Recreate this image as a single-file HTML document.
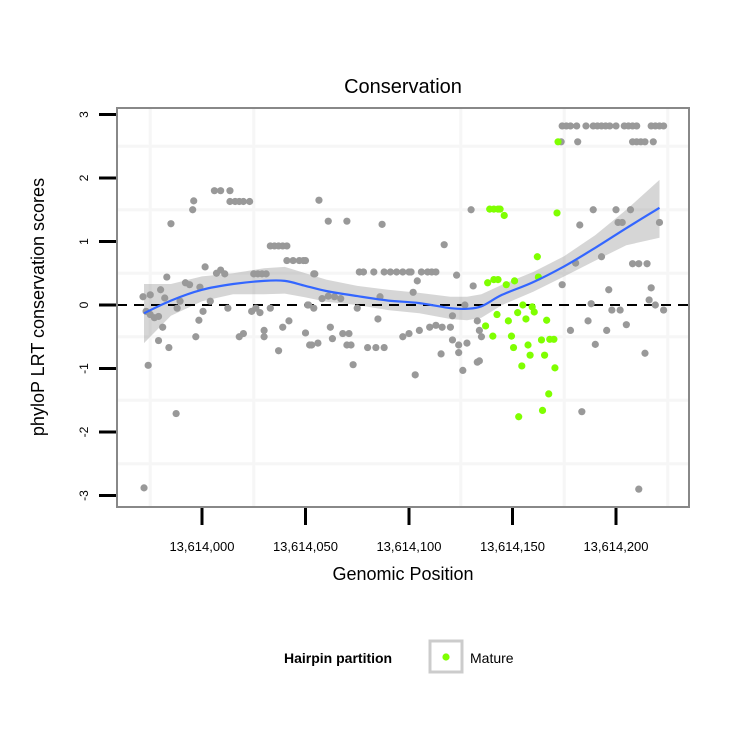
<!DOCTYPE html>
<html><head><meta charset="utf-8"><style>
html,body{margin:0;padding:0;background:#fff;}
svg text{font-family:"Liberation Sans",Arial,sans-serif;}
</style></head><body>
<svg id="chart" width="750" height="750" viewBox="0 0 750 750" xmlns="http://www.w3.org/2000/svg">
<rect x="0" y="0" width="750" height="750" fill="#fff"/>
<text x="403" y="93" font-size="20" text-anchor="middle" fill="#000">Conservation</text>
<g id="grid"></g>
<g id="band"></g>
<line x1="117" x2="689" y1="305" y2="305" stroke="#000" stroke-width="2" stroke-dasharray="10,7"/>
<g id="points"></g>
<g id="fit"></g>
<rect x="117" y="108" width="572" height="399" fill="none" stroke="#888" stroke-width="2"/>
<g id="axes"></g>
<text x="403" y="580" font-size="18" text-anchor="middle">Genomic Position</text>
<text transform="translate(44,307) rotate(-90)" font-size="18" text-anchor="middle">phyloP LRT conservation scores</text>
<g>
<text x="284" y="663" font-size="14" font-weight="bold">Hairpin partition</text>
<rect x="430" y="641" width="32" height="31" fill="#fff" stroke="#ccc" stroke-width="3"/>
<circle cx="446" cy="657" r="3.6" fill="#7fff00"/>
<text x="470" y="663" font-size="14">Mature</text>
</g>
</svg>
<script>
const xTicks=[13614000,13614050,13614100,13614150,13614200];
const xTickLabels=["13,614,000","13,614,050","13,614,100","13,614,150","13,614,200"];
const yTicks=[-3,-2,-1,0,1,2,3];
const yTickLabels=["-3","-2","-1","0","1","2","3"];
const base=13614000;
// gray points: offset from 13614000
const grayPos=[
-28,-28.5,-25,-26,-27,-25,-23,-21,-20,-18,
-19,-21,-16,-12.5,-15,-17,-12,-10.6,-8,-6,
-4.5,-4,-1,-1.5,-3,1.5,0.5,4,7,9,
11,6,9,13.5,13.5,16,18,20,23,12.5,
18,20,24,26,28,30,30,25,27,29,
31,33,35,37,39,41,33,37,39,42,
41,44,47,50,50,52,54,51.5,49,53,
56,54.5,51,54,56.5,61,70,58,61,64,
67,62,63,68,71,70,72,73,75,76,
78,80,83,84,88,85,86,87,88,91,
94,97,100,101,97,100,102,104,103,105,
106,109,111,113,110,113,116,120,115.5,117,
121,124,128,121,123,124,126,127,130,131,
133,133,134,135,134,174,176,178,181,185.5,
189,191,193,195,197,200,204,206,208,210,
217,219,221,223,173.5,181.5,208,210,212,214,
218,189,200,207,182.5,201,203,221,193,180.5,
208,211,215,174,196.5,217,188,198,202,216,
219,223,186.5,178,195.5,205,190,214,183.5,211];
const grayVal=[
-2.88,0.13,0.16,-0.95,-0.1,-0.15,-0.2,-0.18,0.24,0.11,
-0.35,-0.56,-0.67,-1.71,1.28,0.44,-0.05,0.06,0.35,0.32,
1.5,1.64,0.28,-0.24,-0.5,0.6,-0.1,0.06,0.5,0.55,
0.49,1.8,1.8,1.8,1.63,1.63,1.63,1.63,1.63,-0.05,
-0.5,-0.45,-0.1,-0.05,-0.12,-0.4,-0.5,0.49,0.49,0.49,
0.49,0.93,0.93,0.93,0.93,0.93,-0.05,-0.72,-0.35,-0.25,
0.7,0.7,0.7,0.7,-0.44,-0.63,0.49,0,0.7,-0.63,
-0.6,0.49,0,-0.05,1.65,1.32,1.32,0.1,0.14,0.13,
0.1,-0.35,-0.53,-0.45,-0.45,-0.63,-0.63,-0.94,-0.05,0.52,
0.52,-0.67,0.52,-0.67,-0.67,-0.22,0.13,1.27,0.52,0.52,
0.52,-0.5,-0.45,0.52,0.52,0.52,0.2,0.38,-1.1,-0.4,
0.52,0.52,0.52,0.52,-0.35,-0.32,-0.35,-0.35,-0.77,0.95,
-0.55,-0.63,-0.6,-0.17,0.47,-0.75,-1.03,0,1.5,0.3,
-0.9,-0.25,-0.4,-0.5,-0.88,2.82,2.82,2.82,2.82,2.82,
2.82,2.82,2.82,2.82,2.82,2.82,2.82,2.82,2.82,2.82,
2.82,2.82,2.82,2.82,2.57,2.57,2.57,2.57,2.57,2.57,
2.57,1.5,1.5,1.5,1.26,1.3,1.3,1.3,0.76,0.66,
0.65,0.65,0.65,0.32,0.24,0.27,0.02,-0.08,-0.08,0.08,
0,-0.08,-0.25,-0.4,-0.4,-0.31,-0.62,-0.76,-1.68,-2.9];
// green (mature) points
const greenPos=[139,141,143,144,146,171.5,172,162,138,141,143,151,147,162.5,137,140.5,142.5,148,149.5,150.5,152.5,155,156.5,159.5,160.5,157.5,158.5,154.5,164,165.5,166.5,168,170,170.5,167.5,164.5,153];
const greenVal=[1.51,1.51,1.51,1.51,1.41,1.45,2.57,0.76,0.35,0.4,0.4,0.38,0.32,0.44,-0.33,-0.49,-0.15,-0.25,-0.49,-0.67,-0.12,0,-0.22,-0.03,-0.11,-0.63,-0.79,-0.96,-0.55,-0.79,-0.24,-0.54,-0.54,-0.99,-1.4,-1.66,-1.76];
// loess fit
const fitPos=[-28,-15,0,15,30,40,50,60,75,90,105,120,128,135,145,160,175,190,205,221];
const fitVal=[-0.13,0.07,0.24,0.33,0.38,0.38,0.3,0.22,0.14,0.07,0.03,-0.05,-0.06,-0.02,0.16,0.36,0.61,0.9,1.21,1.53];
const fitLo=[-0.6,-0.17,0.06,0.17,0.17,0.18,0.12,0.05,0,-0.08,-0.13,-0.22,-0.24,-0.2,0,0.21,0.45,0.7,0.94,1.06];
const fitHi=[0.33,0.33,0.45,0.5,0.58,0.6,0.5,0.4,0.3,0.24,0.19,0.13,0.13,0.17,0.32,0.52,0.77,1.1,1.5,1.97];

const NS='http://www.w3.org/2000/svg';
const xs=p=>202+(p-base)*2.07;
const xo=o=>202+o*2.07;
const ys=v=>305-v*63.5;
function mk(tag,attrs,parent){const e=document.createElementNS(NS,tag);for(const k in attrs)e.setAttribute(k,attrs[k]);parent.appendChild(e);return e;}
const grid=document.getElementById('grid');
[-25,25,125,175,225].forEach(o=>{
 const l=mk('line',{x1:xo(o),x2:xo(o),y1:109,y2:506,stroke:'#f6f6f6','stroke-width':3},grid);
 
 
});
[-2.5,-1.5,-0.5,0.5,1.5,2.5].forEach(v=>{
 const l=mk('line',{x1:118,x2:688,y1:ys(v),y2:ys(v),stroke:'#f6f6f6','stroke-width':3},grid);
 
 
});
let d='';
fitPos.forEach((p,i)=>{d+=(i?'L':'M')+xo(p).toFixed(1)+','+ys(fitHi[i]).toFixed(1);});
for(let i=fitPos.length-1;i>=0;i--)d+='L'+xo(fitPos[i]).toFixed(1)+','+ys(fitLo[i]).toFixed(1);
const band=mk('path',{d:d+'Z',fill:'#999','fill-opacity':0.4},document.getElementById('band'));


const pts=document.getElementById('points');
grayPos.forEach((p,i)=>{
 const c=mk('circle',{cx:xo(p),cy:ys(grayVal[i]),r:3.6,fill:'#999'},pts);
 
 
});
greenPos.forEach((p,i)=>{
 const c=mk('circle',{cx:xo(p),cy:ys(greenVal[i]),r:3.6,fill:'#7fff00'},pts);
 
 
});
const P=fitPos.map((p,i)=>[xo(p),ys(fitVal[i])]);
let ld='M'+P[0][0]+','+P[0][1];
for(let i=0;i<P.length-1;i++){
 const p0=P[Math.max(0,i-1)],p1=P[i],p2=P[i+1],p3=P[Math.min(P.length-1,i+2)];
 const c1=[p1[0]+(p2[0]-p0[0])/6,p1[1]+(p2[1]-p0[1])/6],c2=[p2[0]-(p3[0]-p1[0])/6,p2[1]-(p3[1]-p1[1])/6];
 ld+='C'+c1[0].toFixed(1)+','+c1[1].toFixed(1)+' '+c2[0].toFixed(1)+','+c2[1].toFixed(1)+' '+p2[0].toFixed(1)+','+p2[1].toFixed(1);
}
const fl=mk('path',{d:ld,fill:'none',stroke:'#3366ff','stroke-width':2.2},document.getElementById('fit'));


const ax=document.getElementById('axes');
xTicks.forEach((t,i)=>{
 const l=mk('line',{x1:xs(t),x2:xs(t),y1:508,y2:525,stroke:'#000','stroke-width':3},ax);
 
 
 const tx=mk('text',{x:xs(t),y:551,'font-size':13,'text-anchor':'middle'},ax);
 tx.textContent=xTickLabels[i];
 
 
});
yTicks.forEach((t,i)=>{
 const l=mk('line',{x1:99,x2:116,y1:ys(t),y2:ys(t),stroke:'#000','stroke-width':3},ax);
 
 
 const tx=mk('text',{transform:'translate(88,'+ys(t)+') rotate(-90)','font-size':12,'text-anchor':'middle'},ax);
 tx.textContent=yTickLabels[i];
 
 
});
</script>
</body></html>
